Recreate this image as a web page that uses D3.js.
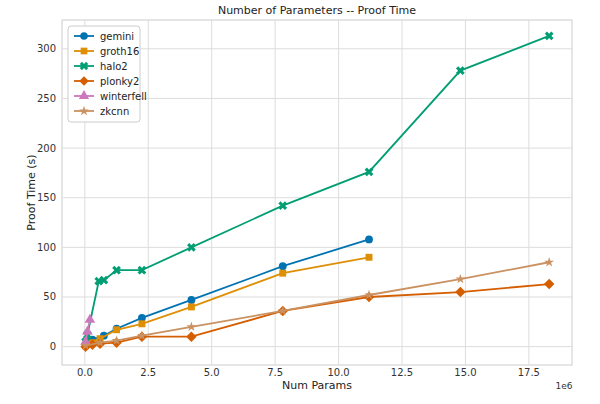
<!DOCTYPE html><html><head><script src="https://cdn.jsdelivr.net/npm/d3@7"></script>
<style>body{margin:0;background:#fff}text{font-family:"DejaVu Sans",sans-serif}</style></head><body><svg width="600" height="404"></svg>
<script>
const seriesNames=["gemini","groth16","halo2","plonky2","winterfell","zkcnn"];
const colors=["#0173B2","#DE8F05","#029E73","#D55E00","#CC78BC","#CA9161"];
const markers=[d3.symbolCircle,d3.symbolSquare,d3.symbolCross,d3.symbolSquare,d3.symbolTriangle,d3.symbolStar];
const gemini=[[0.03,2],[0.1,5],[0.3,7],[0.75,11],[1.25,18],[2.25,29],[4.2,47],[7.8,81],[11.2,108]];
const groth16=[[0.03,1],[0.3,4],[0.6,8],[1.25,17],[2.25,23],[4.2,40],[7.8,74],[11.2,90]];
const halo2=[[0.03,5],[0.1,12],[0.55,66],[0.75,67],[1.25,77],[2.25,77],[4.2,100],[7.8,142],[11.2,176],[14.8,278],[18.3,313]];
const plonky2=[[0.03,0],[0.3,2],[0.6,3],[1.25,4],[2.25,10],[4.2,10],[7.8,36],[11.2,50],[14.8,55],[18.3,63]];
const winterfell=[[0.03,5],[0.1,15],[0.2,27]];
const zkcnn=[[0.03,1],[0.6,4],[1.25,6],[2.25,11],[4.2,20],[7.8,36],[11.2,52],[14.8,68],[18.3,85]];
const data=[gemini,groth16,halo2,plonky2,winterfell,zkcnn];
const xTicks=[0,2.5,5,7.5,10,12.5,15,17.5], yTicks=[0,50,100,150,200,250,300];
const svg=d3.select("svg");
const L=62,R=572,T=20,B=365;
const x=d3.scaleLinear().domain([-0.9,19.2]).range([L,R]);
const y=d3.scaleLinear().domain([-18.5,329]).range([B,T]);
svg.append("rect").attr("x",L).attr("y",T).attr("width",R-L).attr("height",B-T).attr("fill","#fff").attr("stroke","#ccc");
const g=svg.append("g");
xTicks.forEach(t=>g.append("line").attr("x1",x(t)).attr("x2",x(t)).attr("y1",T).attr("y2",B).attr("stroke","#ddd"));
yTicks.forEach(t=>g.append("line").attr("y1",y(t)).attr("y2",y(t)).attr("x1",L).attr("x2",R).attr("stroke","#ddd"));
xTicks.forEach(t=>svg.append("text").attr("x",x(t)).attr("y",B+11).attr("text-anchor","middle").attr("font-size",10).attr("fill","#333").text(t.toFixed(1)));
yTicks.forEach(t=>svg.append("text").attr("x",L-6).attr("y",y(t)+3.5).attr("text-anchor","end").attr("font-size",10).attr("fill","#333").text(t));
svg.append("text").attr("x",R-8).attr("y",B+24).attr("text-anchor","middle").attr("font-size",9).attr("fill","#333").text("1e6");
svg.append("text").attr("x",(L+R)/2).attr("y",389).attr("text-anchor","middle").attr("font-size",11).attr("fill","#222").text("Num Params");
svg.append("text").attr("transform",`translate(35,${(T+B)/2}) rotate(-90)`).attr("text-anchor","middle").attr("font-size",11).attr("fill","#222").text("Proof Time (s)");
svg.append("text").attr("x",(L+R)/2).attr("y",14).attr("text-anchor","middle").attr("font-size",11).attr("fill","#222").text("Number of Parameters -- Proof Time");
const line=d3.line().x(d=>x(d[0])).y(d=>y(d[1]));
const rot=i=>(i==2||i==3)?" rotate(45)":"";
data.forEach((s,i)=>{
 svg.append("path").attr("d",line(s)).attr("fill","none").attr("stroke",colors[i]).attr("stroke-width",1.8);
 svg.selectAll(null).data(s).enter().append("path").attr("d",d3.symbol(markers[i],i==5?30:(i==3?55:48))).attr("transform",d=>`translate(${x(d[0])},${y(d[1])})${rot(i)}`).attr("fill",colors[i]);
});
const lg=svg.append("g").attr("transform",`translate(${L+6},${T+6})`);
lg.append("rect").attr("width",72).attr("height",96).attr("fill","#fff").attr("stroke","#ccc").attr("rx",3);
seriesNames.forEach((n,i)=>{
 const yy=10+i*15;
 lg.append("line").attr("x1",6).attr("x2",26).attr("y1",yy).attr("y2",yy).attr("stroke",colors[i]).attr("stroke-width",1.8);
 lg.append("path").attr("d",d3.symbol(markers[i],i==5?30:45)).attr("transform",`translate(16,${yy})${rot(i)}`).attr("fill",colors[i]);
 lg.append("text").attr("x",32).attr("y",yy+3.5).attr("font-size",10).attr("fill","#222").text(n);
});
</script></body></html>
